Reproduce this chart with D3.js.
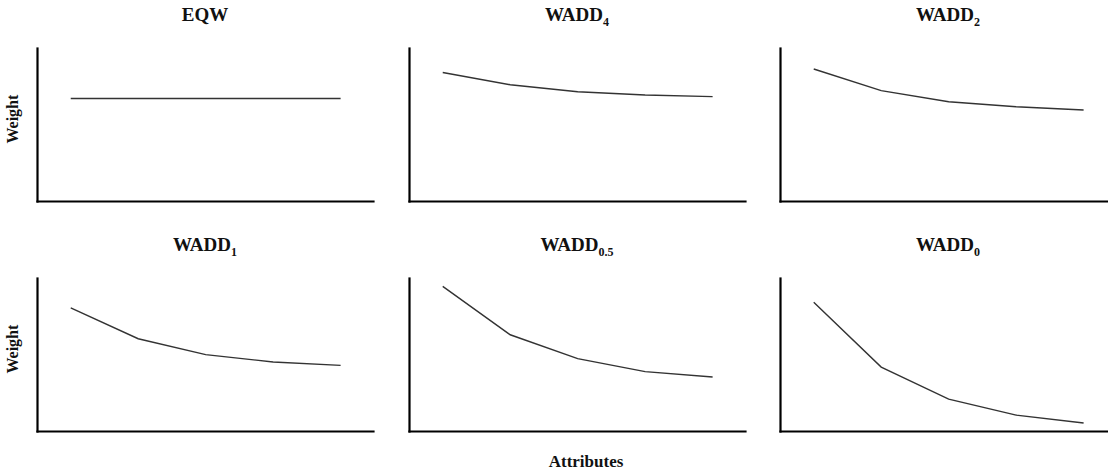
<!DOCTYPE html>
<html>
<head>
<meta charset="utf-8">
<script src="https://cdn.jsdelivr.net/npm/d3@7"></script>
<style>
  body { margin: 0; background: #fff; }
</style>
</head>
<body>
<div id="chart"></div>
<script>
// attributes in order of importance
const attributes = [1, 2, 3, 4, 5];

// weight per attribute (0 = x axis, 1 = top of y axis)
const eqw     = [0.67, 0.67, 0.67, 0.67, 0.67];
const wadd4   = [0.84, 0.76, 0.714, 0.693, 0.682];
const wadd2   = [0.863, 0.721, 0.649, 0.616, 0.595];
const wadd1   = [0.805, 0.603, 0.499, 0.451, 0.429];
const wadd05  = [0.945, 0.629, 0.473, 0.388, 0.353];
const wadd0   = [0.841, 0.418, 0.208, 0.104, 0.052];

const titles = [
    {name: "EQW", sub: ""},
    {name: "WADD", sub: "4"},
    {name: "WADD", sub: "2"},
    {name: "WADD", sub: "1"},
    {name: "WADD", sub: "0.5"},
    {name: "WADD", sub: "0"}
];
const series = [eqw, wadd4, wadd2, wadd1, wadd05, wadd0];

const width = 1108, height = 472;
const panelW = 336, panelH = 153;
const colLeft = [37, 409, 780];
const rowTop = [48, 278];
const serif = "'Liberation Serif', 'Times New Roman', Times, 'DejaVu Serif', serif";

const svg = d3.select("#chart").append("svg")
    .attr("width", width)
    .attr("height", height)
    .attr("font-family", serif)
    .attr("font-weight", "bold");

const x = d3.scaleLinear().domain([0.5, 5.48]).range([0, panelW]);
const y = d3.scaleLinear().domain([0, 1]).range([panelH, 0]);

const line = d3.line()
    .x((d, i) => x(attributes[i]))
    .y(d => y(d));

series.forEach((vals, k) => {
    const col = k % 3, row = Math.floor(k / 3);
    const g = svg.append("g")
        .attr("transform", "translate(" + colLeft[col] + "," + rowTop[row] + ")");

    // title with subscript
    const t = g.append("text")
        .attr("x", panelW / 2)
        .attr("y", -27)
        .attr("text-anchor", "middle")
        .attr("font-family", serif)
        .attr("font-size", 19)
        .attr("fill", "#111")
        .text(titles[k].name);
    if (titles[k].sub) {
        t.append("tspan")
            .attr("dy", 5)
            .attr("font-size", 12)
            .text(titles[k].sub);
    }

    g.append("path")
        .datum(vals)
        .attr("fill", "none")
        .attr("stroke", "#333")
        .attr("stroke-width", 1.4)
        .attr("d", line);

    const xAxis = g.append("g")
        .attr("transform", "translate(0," + panelH + ")")
        .call(d3.axisBottom(x).tickValues([]).tickSizeOuter(0));
    const yAxis = g.append("g")
        .call(d3.axisLeft(y).tickValues([]).tickSizeOuter(0));
    [xAxis, yAxis].forEach(a => a.select(".domain")
        .attr("stroke", "#000")
        .attr("stroke-width", 2.2)
        .attr("stroke-linecap", "square"));

    if (col === 0) {
        g.append("text")
            .attr("transform", "translate(-19," + (panelH * 0.465) + ") rotate(-90)")
            .attr("text-anchor", "middle")
            .attr("font-family", serif)
            .attr("font-size", 16)
            .attr("fill", "#111")
            .text("Weight");
    }
});

svg.append("text")
    .attr("x", 586)
    .attr("y", 467)
    .attr("text-anchor", "middle")
    .attr("font-family", serif)
    .attr("font-size", 17)
    .attr("fill", "#111")
    .text("Attributes");
</script>
</body>
</html>
